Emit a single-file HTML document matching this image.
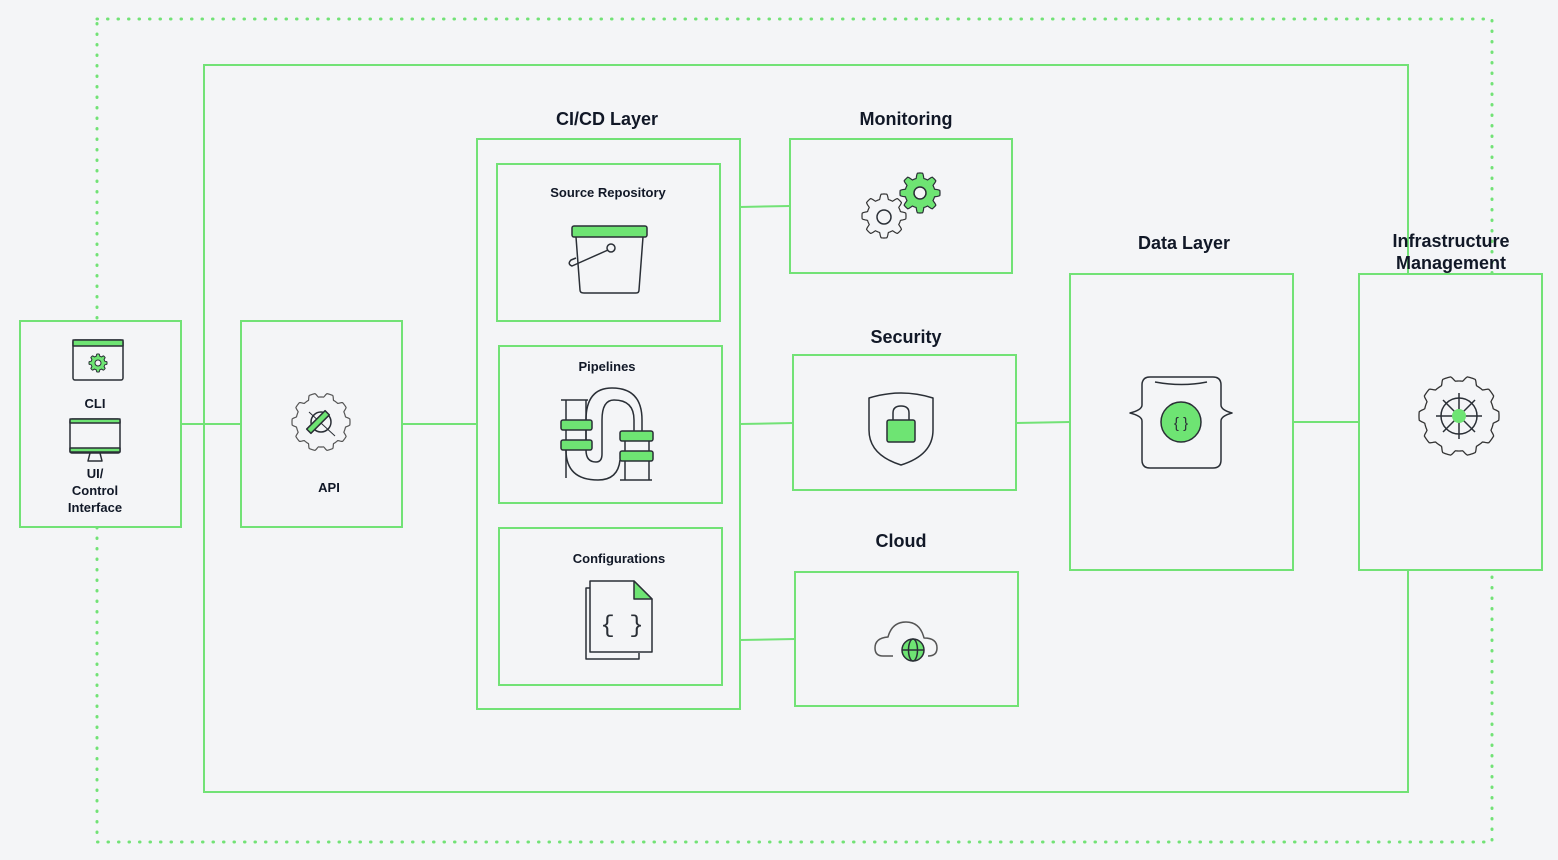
<!DOCTYPE html>
<html><head><meta charset="utf-8"><style>
html,body{margin:0;padding:0;background:#f4f5f7;}
svg{display:block;font-family:"Liberation Sans",sans-serif;font-weight:bold;}
</style></head><body>
<svg width="1558" height="860" viewBox="0 0 1558 860" xmlns="http://www.w3.org/2000/svg">
<rect width="1558" height="860" fill="#f4f5f7"/>
<g fill="none" stroke="#72e276" stroke-width="2">
<rect x="97" y="19" width="1395" height="823" stroke-width="3" stroke-dasharray="0.5 10" stroke-linecap="round"/>
<rect x="204" y="65" width="1204" height="727"/>
<line x1="181" y1="424" x2="241" y2="424"/>
<line x1="402" y1="424" x2="477" y2="424"/>
<line x1="740" y1="207" x2="790" y2="206"/>
<line x1="740" y1="424" x2="793" y2="423"/>
<line x1="740" y1="640" x2="795" y2="639"/>
<line x1="1016" y1="423" x2="1070" y2="422"/>
<line x1="1293" y1="422" x2="1359" y2="422"/>
</g>
<g fill="#f4f5f7" stroke="#72e276" stroke-width="2">
<rect x="20" y="321" width="161" height="206"/>
<rect x="241" y="321" width="161" height="206"/>
<rect x="477" y="139" width="263" height="570"/>
<rect x="497" y="164" width="223" height="157"/>
<rect x="499" y="346" width="223" height="157"/>
<rect x="499" y="528" width="223" height="157"/>
<rect x="790" y="139" width="222" height="134"/>
<rect x="793" y="355" width="223" height="135"/>
<rect x="795" y="572" width="223" height="134"/>
<rect x="1070" y="274" width="223" height="296"/>
<rect x="1359" y="274" width="183" height="296"/>
</g>
<g fill="#111827" text-anchor="middle">
<text x="607" y="125" font-size="18">CI/CD Layer</text>
<text x="906" y="125" font-size="18">Monitoring</text>
<text x="906" y="343" font-size="18">Security</text>
<text x="901" y="547" font-size="18">Cloud</text>
<text x="1184" y="249" font-size="18">Data Layer</text>
<text x="1451" y="247" font-size="18">Infrastructure</text>
<text x="1451" y="269" font-size="18">Management</text>
<text x="608" y="197" font-size="13">Source Repository</text>
<text x="607" y="371" font-size="13">Pipelines</text>
<text x="619" y="563" font-size="13">Configurations</text>
<text x="95" y="408" font-size="13">CLI</text>
<text x="95" y="478" font-size="13">UI/</text>
<text x="95" y="495" font-size="13">Control</text>
<text x="95" y="512" font-size="13">Interface</text>
<text x="329" y="492" font-size="13">API</text>
</g>
<g stroke="#2a2f36" stroke-width="1.5" fill="none" stroke-linejoin="round">
<!-- CLI window -->
<rect x="73" y="340" width="50" height="40" rx="2"/>
<rect x="73" y="340" width="50" height="6" fill="#6ee473"/>
<path class="gear" data-g="98,363,9,7,8" fill="#6ee473" stroke-width="1" d=""/>
<circle cx="98" cy="363" r="3" fill="#f4f5f7" stroke-width="1"/>
<!-- monitor -->
<rect x="70" y="419" width="50" height="34" rx="2"/>
<rect x="70" y="419" width="50" height="4" fill="#6ee473"/>
<rect x="70" y="448" width="50" height="4" fill="#6ee473"/>
<path d="M90 453 L88 461 H102 L100 453"/>
<!-- API gear -->
<path class="gear" data-g="321,422,29,25,10" stroke="#555" stroke-width="1.2" d=""/>
<circle cx="321" cy="422" r="10"/>
<line x1="309" y1="412" x2="335" y2="436" stroke-width="1"/>
<rect x="305" y="419" width="26" height="6" fill="#6ee473" transform="rotate(-45 318 422)"/>
<!-- bucket -->
<rect x="572" y="226" width="75" height="11" rx="2" fill="#6ee473"/>
<path d="M576 237 L580 290 Q580 293 584 293 H636 Q639 293 639 290 L643 237"/>
<circle cx="611" cy="248" r="4"/>
<path d="M608 250 L572 266 Q567 264 571 260 L576 258"/>
<!-- pipes -->
<path d="M561 400 H588 M566 400 V478 M586 400 V450 Q586 462 596 462 Q602 462 602 454 V420 Q602 400 614 400 Q634 400 634 420 V440"/>
<path d="M566 450 Q566 480 598 480 Q618 480 620 460"/>
<path d="M586 440 V420 Q586 388 612 388 Q642 388 642 420 V440"/>
<path d="M620 480 H652 M625 440 V480 M649 440 V480"/>
<rect x="561" y="420" width="31" height="10" rx="2" fill="#6ee473"/>
<rect x="561" y="440" width="31" height="10" rx="2" fill="#6ee473"/>
<rect x="620" y="431" width="33" height="10" rx="2" fill="#6ee473"/>
<rect x="620" y="451" width="33" height="10" rx="2" fill="#6ee473"/>
<!-- config docs -->
<path d="M592 588 H586 V659 H639 V653"/>
<path d="M590 581 H634 L652 599 V652 H590 Z" fill="#f4f5f7"/>
<path d="M634 581 L652 599 H634 Z" fill="#6ee473"/>
<text x="622" y="632" font-size="24" font-weight="normal" fill="#2a2f36" stroke="none" text-anchor="middle" font-family="Liberation Mono">{ }</text>
<!-- monitoring gears -->
<path class="gear" data-g="884,216,22,17,8" stroke="#333" stroke-width="1.2" d=""/>
<circle cx="884" cy="217" r="7"/>
<path class="gear" data-g="920,193,20,15,8" fill="#6ee473" stroke-width="1.2" d=""/>
<circle cx="920" cy="193" r="6" fill="#f4f5f7"/>
<!-- shield -->
<path d="M869 398 Q901 388 933 398 V430 Q933 455 901 465 Q869 455 869 430 Z"/>
<path d="M893 420 V413 Q893 406 901 406 Q909 406 909 413 V420"/>
<rect x="887" y="420" width="28" height="22" rx="2" fill="#6ee473"/>
<!-- cloud -->
<path d="M893 656 H883 Q875 656 875 648 Q875 638 888 637 Q892 622 906 622 Q920 622 924 638 Q937 638 937 648 Q937 656 928 656" stroke="#555"/>
<circle cx="913" cy="650" r="11" fill="#6ee473"/>
<ellipse cx="913" cy="650" rx="4.5" ry="11"/>
<line x1="902" y1="650" x2="924" y2="650"/>
<!-- data layer -->
<path d="M1150 377 H1213 Q1221 377 1221 385 V405 Q1221 410 1232 413 Q1221 416 1221 421 V460 Q1221 468 1213 468 H1150 Q1142 468 1142 460 V421 Q1142 416 1130 413 Q1142 410 1142 405 V385 Q1142 377 1150 377 Z"/>
<path d="M1155 382 Q1182 387 1207 382"/>
<circle cx="1181" cy="422" r="20" fill="#6ee473"/>
<text x="1181" y="428" font-size="15" fill="#2a2f36" stroke="none" text-anchor="middle" font-weight="normal">{ }</text>
<!-- infra gear -->
<path class="gear" data-g="1459,416,40,35,10" stroke="#333" stroke-width="1.3" d=""/>
<circle cx="1459" cy="416" r="18"/>
<line x1="1436" y1="416" x2="1482" y2="416"/>
<line x1="1459" y1="393" x2="1459" y2="439"/>
<line x1="1443" y1="400" x2="1475" y2="432"/>
<line x1="1475" y1="400" x2="1443" y2="432"/>
<circle cx="1459" cy="416" r="7" fill="#6ee473" stroke="none"/>
</g>
<script>
document.querySelectorAll('path.gear').forEach(function(p){
  var a=p.getAttribute('data-g').split(',').map(Number);
  var cx=a[0],cy=a[1],R=a[2],r=a[3],n=a[4],d='',steps=n*24;
  for(var i=0;i<=steps;i++){
    var t=i/steps*2*Math.PI;
    var k=0.5+0.5*Math.cos(t*n);
    k=Math.max(0,Math.min(1,(k-0.5)*2.2+0.5));
    var rr=r+(R-r)*k;
    d+=(i?'L':'M')+(cx+rr*Math.cos(t)).toFixed(2)+' '+(cy+rr*Math.sin(t)).toFixed(2);
  }
  p.setAttribute('d',d+'Z');
});
</script>
</svg>
</body></html>
